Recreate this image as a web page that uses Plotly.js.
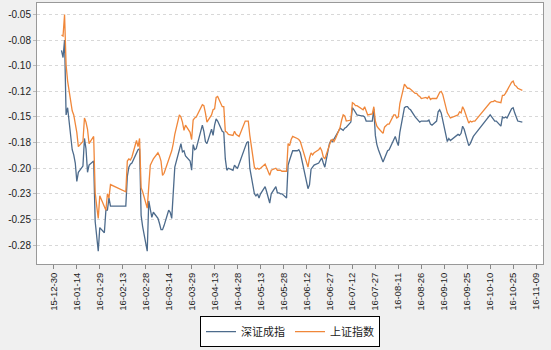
<!DOCTYPE html>
<html>
<head>
<meta charset="utf-8">
<script src="https://cdn.plot.ly/plotly-3.0.1.min.js"></script>
<style>html,body{margin:0;padding:0;background:#f0f0f0;}#chart{width:551px;height:350px;}</style>
</head>
<body>
<div id="chart"></div>
<script>
const dates = [
'2016-01-04','2016-01-05','2016-01-06','2016-01-07','2016-01-08',
'2016-01-11','2016-01-12','2016-01-13','2016-01-14','2016-01-15',
'2016-01-18','2016-01-19','2016-01-20','2016-01-21','2016-01-22',
'2016-01-25','2016-01-26','2016-01-27','2016-01-28','2016-01-29',
'2016-02-01','2016-02-02','2016-02-03','2016-02-04','2016-02-05',
'2016-02-15','2016-02-16','2016-02-17','2016-02-18','2016-02-19',
'2016-02-22','2016-02-23','2016-02-24','2016-02-25','2016-02-26',
'2016-02-29','2016-03-01','2016-03-02','2016-03-03','2016-03-04',
'2016-03-07','2016-03-08','2016-03-09','2016-03-10','2016-03-11',
'2016-03-14','2016-03-15','2016-03-16','2016-03-17','2016-03-18',
'2016-03-21','2016-03-22','2016-03-23','2016-03-24','2016-03-25',
'2016-03-28','2016-03-29','2016-03-30','2016-03-31','2016-04-01',
'2016-04-05','2016-04-06','2016-04-07','2016-04-08',
'2016-04-11','2016-04-12','2016-04-13','2016-04-14','2016-04-15',
'2016-04-18','2016-04-19','2016-04-20','2016-04-21','2016-04-22',
'2016-04-25','2016-04-26','2016-04-27','2016-04-28','2016-04-29',
'2016-05-03','2016-05-04','2016-05-05','2016-05-06',
'2016-05-09','2016-05-10','2016-05-11','2016-05-12','2016-05-13',
'2016-05-16','2016-05-17','2016-05-18','2016-05-19','2016-05-20',
'2016-05-23','2016-05-24','2016-05-25','2016-05-26','2016-05-27',
'2016-05-30','2016-05-31','2016-06-01','2016-06-02','2016-06-03',
'2016-06-06','2016-06-07','2016-06-08',
'2016-06-13','2016-06-14','2016-06-15','2016-06-16','2016-06-17',
'2016-06-20','2016-06-21','2016-06-22','2016-06-23','2016-06-24',
'2016-06-27','2016-06-28','2016-06-29','2016-06-30','2016-07-01',
'2016-07-04','2016-07-05','2016-07-06','2016-07-07','2016-07-08',
'2016-07-11','2016-07-12','2016-07-13','2016-07-14','2016-07-15',
'2016-07-18','2016-07-19','2016-07-20','2016-07-21','2016-07-22',
'2016-07-25','2016-07-26','2016-07-27','2016-07-28','2016-07-29',
'2016-08-01','2016-08-02','2016-08-03','2016-08-04','2016-08-05',
'2016-08-08','2016-08-09','2016-08-10','2016-08-11','2016-08-12',
'2016-08-15','2016-08-16','2016-08-17','2016-08-18','2016-08-19',
'2016-08-22','2016-08-23','2016-08-24','2016-08-25','2016-08-26',
'2016-08-29','2016-08-30','2016-08-31','2016-09-01','2016-09-02',
'2016-09-05','2016-09-06','2016-09-07','2016-09-08','2016-09-09',
'2016-09-12','2016-09-13','2016-09-14',
'2016-09-19','2016-09-20','2016-09-21','2016-09-22','2016-09-23',
'2016-09-26','2016-09-27','2016-09-28','2016-09-29','2016-09-30',
'2016-10-10','2016-10-11','2016-10-12','2016-10-13','2016-10-14',
'2016-10-17','2016-10-18','2016-10-19','2016-10-20','2016-10-21',
'2016-10-24','2016-10-25','2016-10-26','2016-10-27','2016-10-28',
'2016-10-31'
];

// 深证成指
const szValues = [
-0.085,-0.092,-0.075,-0.148,-0.141,
-0.182,-0.187,-0.195,-0.213,-0.204,
-0.198,-0.171,-0.181,-0.204,-0.197,
-0.193,-0.252,-0.269,-0.281,-0.258,
-0.263,-0.241,-0.241,-0.229,-0.237,
-0.237,-0.208,-0.199,-0.196,-0.195,
-0.185,-0.182,-0.181,-0.246,-0.257,
-0.281,-0.232,-0.241,-0.248,-0.243,
-0.249,-0.254,-0.260,-0.260,-0.256,
-0.241,-0.243,-0.249,-0.223,-0.199,
-0.182,-0.176,-0.184,-0.183,-0.188,
-0.193,-0.202,-0.177,-0.182,-0.181,
-0.158,-0.164,-0.174,-0.176,
-0.162,-0.168,-0.158,-0.152,-0.154,
-0.164,-0.165,-0.191,-0.202,-0.200,
-0.202,-0.197,-0.199,-0.200,-0.196,
-0.179,-0.175,-0.174,-0.200,
-0.225,-0.227,-0.225,-0.229,-0.225,
-0.218,-0.223,-0.230,-0.234,-0.225,
-0.218,-0.224,-0.224,-0.225,-0.225,
-0.229,-0.197,-0.192,-0.187,-0.183,
-0.183,-0.182,-0.185,
-0.220,-0.216,-0.201,-0.199,-0.197,
-0.195,-0.193,-0.190,-0.195,-0.199,
-0.176,-0.173,-0.174,-0.172,-0.169,
-0.161,-0.162,-0.163,-0.161,-0.160,
-0.155,-0.141,-0.143,-0.146,-0.148,
-0.149,-0.149,-0.150,-0.154,-0.154,
-0.154,-0.142,-0.168,-0.177,-0.182,
-0.194,-0.190,-0.185,-0.183,-0.182,
-0.172,-0.169,-0.174,-0.178,-0.165,
-0.141,-0.140,-0.140,-0.142,-0.143,
-0.150,-0.152,-0.154,-0.155,-0.154,
-0.154,-0.154,-0.153,-0.157,-0.158,
-0.154,-0.145,-0.143,-0.146,-0.153,
-0.174,-0.171,-0.173,
-0.167,-0.168,-0.166,-0.159,-0.162,
-0.178,-0.176,-0.172,-0.169,-0.167,
-0.148,-0.150,-0.152,-0.154,-0.154,
-0.159,-0.150,-0.151,-0.150,-0.151,
-0.142,-0.141,-0.146,-0.151,-0.154,
-0.155
];

// 上证指数
const shValues = [
-0.070,-0.071,-0.050,-0.099,-0.115,
-0.144,-0.148,-0.157,-0.165,-0.179,
-0.174,-0.151,-0.155,-0.162,-0.176,
-0.169,-0.224,-0.237,-0.249,-0.227,
-0.237,-0.241,-0.225,-0.229,-0.216,
-0.223,-0.193,-0.191,-0.192,-0.189,
-0.173,-0.179,-0.171,-0.219,-0.223,
-0.239,-0.218,-0.197,-0.194,-0.191,
-0.185,-0.188,-0.193,-0.207,-0.205,
-0.193,-0.189,-0.183,-0.176,-0.167,
-0.148,-0.150,-0.155,-0.163,-0.158,
-0.165,-0.172,-0.153,-0.151,-0.150,
-0.138,-0.139,-0.146,-0.155,
-0.148,-0.143,-0.142,-0.131,-0.130,
-0.140,-0.140,-0.164,-0.165,-0.167,
-0.168,-0.164,-0.167,-0.168,-0.169,
-0.154,-0.154,-0.154,-0.168,
-0.199,-0.201,-0.200,-0.201,-0.200,
-0.196,-0.200,-0.205,-0.207,-0.202,
-0.200,-0.202,-0.202,-0.202,-0.203,
-0.203,-0.176,-0.178,-0.172,-0.169,
-0.171,-0.172,-0.174,
-0.199,-0.190,-0.185,-0.187,-0.185,
-0.182,-0.180,-0.183,-0.189,-0.191,
-0.176,-0.173,-0.172,-0.174,-0.171,
-0.160,-0.153,-0.148,-0.149,-0.154,
-0.153,-0.136,-0.137,-0.139,-0.139,
-0.142,-0.143,-0.140,-0.145,-0.148,
-0.147,-0.140,-0.154,-0.159,-0.161,
-0.166,-0.160,-0.158,-0.157,-0.157,
-0.148,-0.148,-0.151,-0.150,-0.137,
-0.118,-0.120,-0.122,-0.122,-0.123,
-0.127,-0.127,-0.129,-0.130,-0.132,
-0.131,-0.132,-0.130,-0.133,-0.132,
-0.132,-0.129,-0.126,-0.125,-0.128,
-0.146,-0.148,-0.151,
-0.148,-0.145,-0.146,-0.140,-0.143,
-0.156,-0.154,-0.155,-0.154,-0.154,
-0.136,-0.135,-0.135,-0.134,-0.135,
-0.136,-0.129,-0.129,-0.127,-0.124,
-0.116,-0.115,-0.119,-0.120,-0.122,
-0.124
];

const seriesNames = ['深证成指', '上证指数'];
const yTickVals = [-0.05, -0.075, -0.1, -0.125, -0.15, -0.175, -0.2, -0.225, -0.25, -0.275];
const yTickText = ['-0.05', '-0.08', '-0.10', '-0.12', '-0.15', '-0.18', '-0.20', '-0.23', '-0.25', '-0.28'];

const traces = [
  {x: dates, y: szValues, name: seriesNames[0], type: 'scatter', mode: 'lines',
   line: {color: '#4d6b8c', width: 1.3}},
  {x: dates, y: shValues, name: seriesNames[1], type: 'scatter', mode: 'lines',
   line: {color: '#f0873a', width: 1.3}}
];

const layout = {
  width: 551, height: 350,
  margin: {l: 37, r: 8, t: 3, b: 74},
  paper_bgcolor: '#f0f0f0',
  plot_bgcolor: '#ffffff',
  showlegend: true,
  font: {family: 'Liberation Sans, Arial, sans-serif', color: '#222'},
  xaxis: {
    type: 'date',
    range: ['2015-12-19 00:00', '2016-11-13 12:00'],
    tick0: '2015-12-30',
    dtick: 15 * 86400000,
    tickformat: '%y-%m-%d',
    tickangle: -90,
    ticks: 'outside', ticklen: 4, tickcolor: '#888',
    tickfont: {size: 9.5, color: '#222'},
    showgrid: false,
    showline: true, linecolor: '#999', linewidth: 1, mirror: true,
    zeroline: false
  },
  yaxis: {
    range: [-0.2935, -0.0388],
    tickvals: yTickVals,
    ticktext: yTickText,
    ticks: 'outside', ticklen: 3, tickcolor: '#bbb',
    tickfont: {size: 10, color: '#222'},
    showgrid: true, gridcolor: '#d8d8d8', griddash: 'dot', gridwidth: 1,
    showline: true, linecolor: '#999', linewidth: 1, mirror: true,
    zeroline: false
  },
  legend: {
    orientation: 'h',
    x: 0.5, xanchor: 'center',
    y: -0.2, yanchor: 'top',
    bgcolor: '#ffffff',
    bordercolor: '#000000', borderwidth: 1,
    font: {family: 'Noto Sans CJK SC, sans-serif', size: 11, color: '#222'},
    itemwidth: 30,
    tracegroupgap: 0
  }
};

Plotly.newPlot('chart', traces, layout, {displayModeBar: false, staticPlot: true});
</script>
</body>
</html>
